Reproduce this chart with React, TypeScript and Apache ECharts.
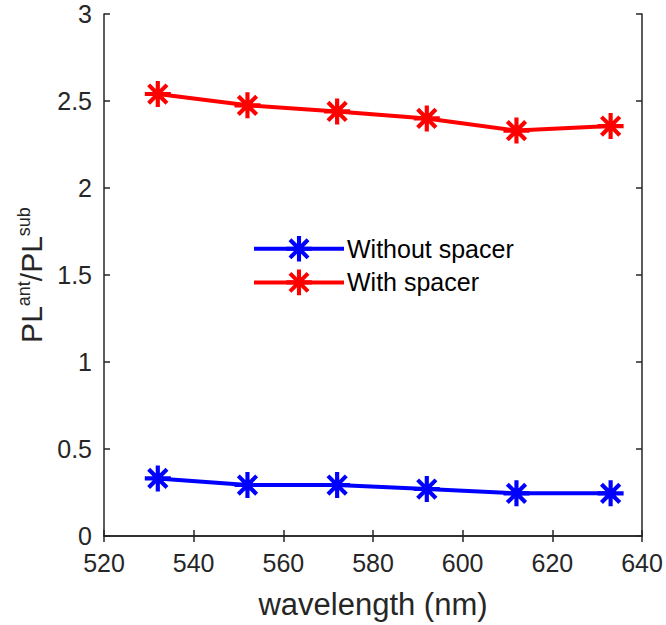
import React, { useEffect, useRef } from "react";
import * as echarts from "echarts";

const wavelengths = [532, 552, 572, 592, 612, 633];
const withoutSpacer = [0.331, 0.293, 0.293, 0.27, 0.245, 0.245];
const withSpacer = [2.54, 2.475, 2.44, 2.4, 2.33, 2.356];
const seriesNames = ["Without spacer", "With spacer"];
const seriesColors = ["#0000ff", "#ff0000"];

const STAR =
  "path://M42 0 L58 0 L58 100 L42 100 Z M0 42 L100 42 L100 58 L0 58 Z " +
  "M20.4 9.1 L90.9 79.6 L79.6 90.9 L9.1 20.4 Z M79.6 9.1 L90.9 20.4 L20.4 90.9 L9.1 79.6 Z";

const AX = "#262626";

export default function App() {
  const ref = useRef<HTMLDivElement>(null);
  useEffect(() => {
    const chart = echarts.init(ref.current!, undefined, { renderer: "svg" });
    const font = "Liberation Sans, Arial, Helvetica, sans-serif";
    const mk = (i: number, vals: number[]) => ({
      name: seriesNames[i],
      type: "line",
      data: wavelengths.map((w, k) => [w, vals[k]]),
      symbol: STAR,
      symbolSize: 26,
      showAllSymbol: true,
      lineStyle: { color: seriesColors[i], width: 4 },
      itemStyle: { color: seriesColors[i] },
      z: 3,
    });
    chart.setOption({
      animation: false,
      grid: { left: 104, right: 24, top: 14, bottom: 88 },
      legend: {
        orient: "vertical",
        left: 247,
        top: 231,
        itemWidth: 90,
        itemHeight: 32,
        itemGap: 8,
        lineStyle: { width: 4 },
        textStyle: { fontSize: 25, color: "#000", fontFamily: font, padding: [0, 0, 0, -2] },
        data: seriesNames,
      },
      xAxis: [
        {
          type: "value",
          min: 520,
          max: 640,
          interval: 20,
          name: "wavelength (nm)",
          nameLocation: "middle",
          nameGap: 53,
          nameTextStyle: { fontSize: 31, color: AX, fontFamily: font },
          axisLine: { lineStyle: { color: AX, width: 1.5 } },
          axisTick: { inside: true, length: 6, lineStyle: { color: AX, width: 1.5 } },
          axisLabel: { fontSize: 25, color: AX, fontFamily: font, margin: 14 },
          splitLine: { show: false },
        },
        {
          type: "value",
          position: "top",
          min: 520,
          max: 640,
          interval: 20,
          axisLine: { show: true, lineStyle: { color: AX, width: 1.5 } },
          axisTick: { inside: true, length: 6, lineStyle: { color: AX, width: 1.5 } },
          axisLabel: { show: false },
          splitLine: { show: false },
        },
      ],
      yAxis: [
        {
          type: "value",
          min: 0,
          max: 3,
          interval: 0.5,
          name: "PL{sup|ant}/PL{sup|sub}",
          nameLocation: "middle",
          nameGap: 55,
          nameTextStyle: {
            fontSize: 30,
            color: AX,
            fontFamily: font,
            rich: {
              sup: { fontSize: 18, color: AX, fontFamily: font, verticalAlign: "top", padding: [0, 0, 14, 0] },
            },
          },
          axisLine: { lineStyle: { color: AX, width: 1.5 } },
          axisTick: { inside: true, length: 6, lineStyle: { color: AX, width: 1.5 } },
          axisLabel: { fontSize: 25, color: AX, fontFamily: font, margin: 12 },
          splitLine: { show: false },
        },
        {
          type: "value",
          position: "right",
          min: 0,
          max: 3,
          interval: 0.5,
          axisLine: { show: true, lineStyle: { color: AX, width: 1.5 } },
          axisTick: { inside: true, length: 6, lineStyle: { color: AX, width: 1.5 } },
          axisLabel: { show: false },
          splitLine: { show: false },
        },
      ],
      series: [mk(0, withoutSpacer), mk(1, withSpacer)],
    });
    return () => chart.dispose();
  }, []);
  return (
    <div
      ref={ref}
      style={{ position: "fixed", left: 0, top: 0, width: 666, height: 625, background: "#fff" }}
    />
  );
}
